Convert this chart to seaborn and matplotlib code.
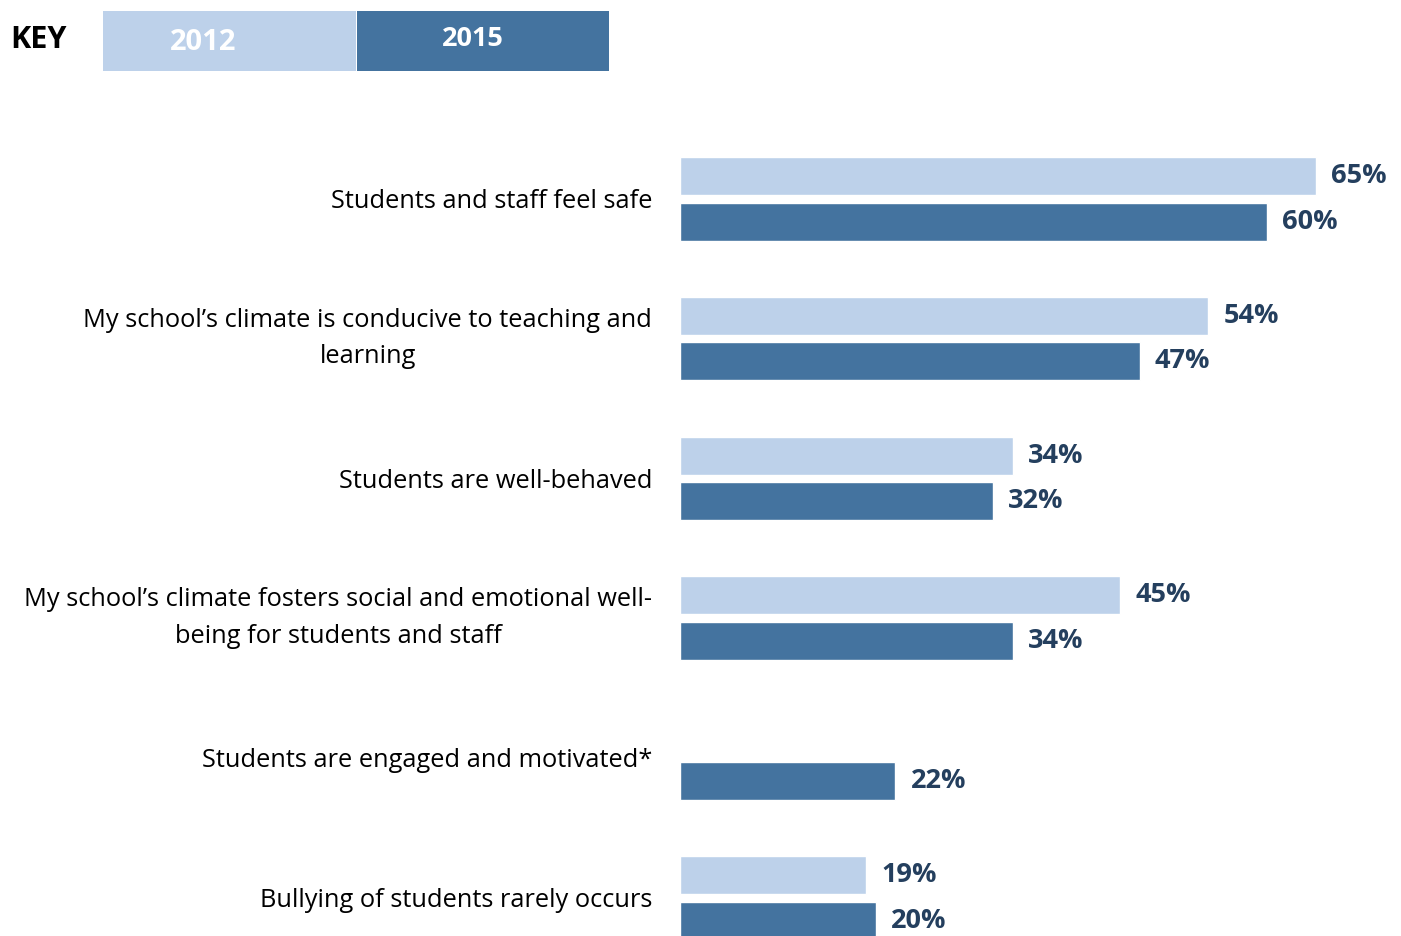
import matplotlib
matplotlib.use("Agg")
import matplotlib.pyplot as plt
from matplotlib.patches import Rectangle
import seaborn as sns
import pandas as pd

statements = [
    "Students and staff feel safe",
    "My school\u2019s climate is conducive to teaching and\nlearning",
    "Students are well-behaved",
    "My school\u2019s climate fosters social and emotional well-\nbeing for students and staff",
    "Students are engaged and motivated*",
    "Bullying of students rarely occurs",
]
years = ["2012", "2015"]
pct_2012 = [65, 54, 34, 45, None, 19]
pct_2015 = [60, 47, 32, 34, 22, 20]

light_blue = "#BDD1EA"
dark_blue = "#44739F"
label_navy = "#243F5E"

rows = []
for s, v in zip(statements, pct_2012):
    if v is not None:
        rows.append({"statement": s, "year": "2012", "pct": v})
for s, v in zip(statements, pct_2015):
    rows.append({"statement": s, "year": "2015", "pct": v})
df = pd.DataFrame(rows)

sns.set_theme(style="white")
plt.rcParams["font.family"] = ["Open Sans", "DejaVu Sans"]

W, H = 1401, 936
fig = plt.figure(figsize=(W / 100, H / 100), dpi=100)

# bar area: left edge at x=680 px, full figure height
ax = fig.add_axes([680 / W, 0, (W - 680) / W, 1])
sns.barplot(
    data=df, x="pct", y="statement", hue="year", orient="h",
    order=statements, hue_order=years,
    palette=[light_blue, dark_blue],
    width=0.651, gap=0.165, legend=False, ax=ax,
    saturation=1, err_kws={"linewidth": 0},
)
ax.set_xlim(0, (W - 680) / 9.78)
ax.set_ylim(5.2736, -1.4217)
ax.set_xlabel("")
ax.set_ylabel("")
ax.set_xticks([])
for sp in ax.spines.values():
    sp.set_visible(False)
ax.tick_params(axis="y", length=0, pad=20)
for t in ax.get_yticklabels():
    t.set_fontsize(18.3)
    t.set_color("black")
    t.set_multialignment("center")
    t.set_linespacing(1.6)
    if "\n" in t.get_text():
        t.set_verticalalignment("center")

for cont in ax.containers:
    ax.bar_label(cont, fmt="%d%%", padding=11, fontsize=19.5,
                 fontweight="bold", color=label_navy)

# key at the top
fig.text(10 / W, 1 - 40 / H, "KEY", fontsize=22, fontweight="bold",
         color="black", ha="left", va="center")
fig.add_artist(Rectangle((103 / W, 1 - 71 / H), 253 / W, 60 / H,
                         transform=fig.transFigure, color=light_blue, lw=0))
fig.add_artist(Rectangle((357 / W, 1 - 71 / H), 252 / W, 60 / H,
                         transform=fig.transFigure, color=dark_blue, lw=0))
fig.text(203 / W, 1 - 42 / H, "2012", fontsize=21, fontweight="bold",
         color="white", ha="center", va="center")
fig.text(473 / W, 1 - 39 / H, "2015", fontsize=19.5, fontweight="bold",
         color="white", ha="center", va="center")

fig.savefig("out.png", dpi=100)
